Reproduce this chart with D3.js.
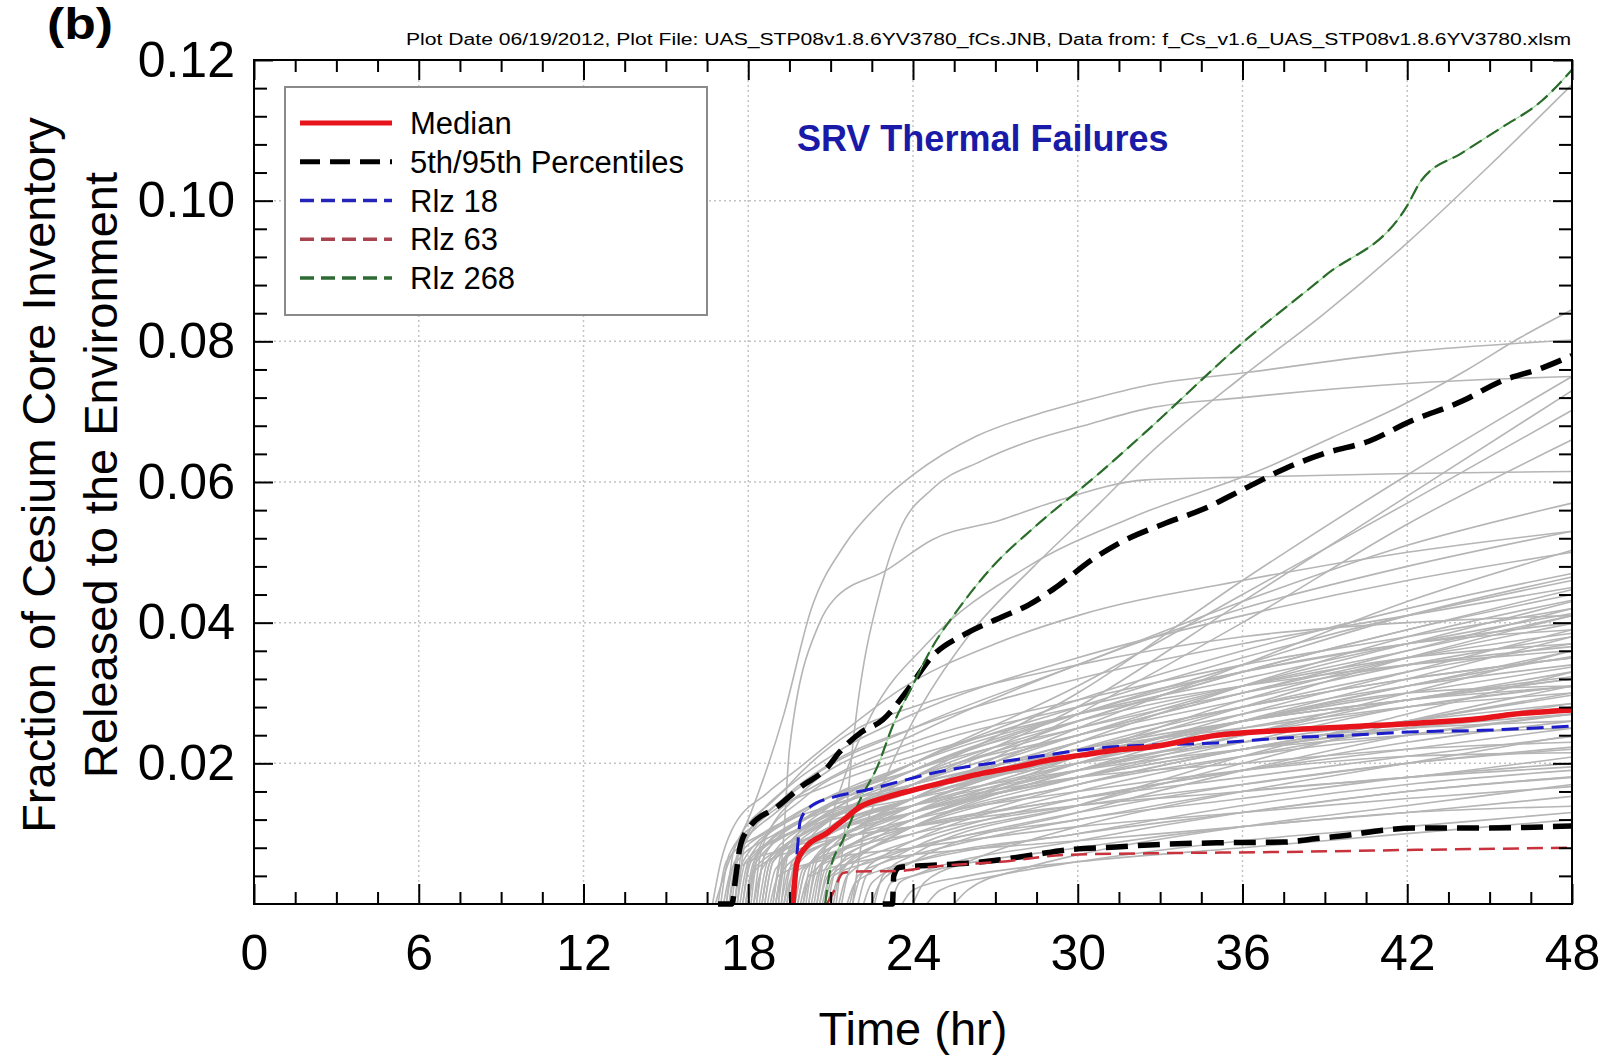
<!DOCTYPE html>
<html>
<head>
<meta charset="utf-8">
<script src="https://cdn.jsdelivr.net/npm/d3@7"></script>
<style>
  body { margin: 0; background: #fff; }
  text { font-family: "Liberation Sans", Arial, sans-serif; }
</style>
</head>
<body>
<div id="chart"></div>
<script>
// axis ticks
const xTicks = [0, 6, 12, 18, 24, 30, 36, 42, 48];
const yTicks = [0.02, 0.04, 0.06, 0.08, 0.10, 0.12];

// named realizations, [hr, fraction]
const median = [[19.63,0],[19.77,0.0058],[20.1,0.0081],[20.87,0.0101],[21.45,0.0119],[22.07,0.0138],[23.05,0.0152],[24,0.0162],[25.46,0.0176],[26.55,0.0186],[27.8,0.0195],[29,0.0205],[30.2,0.0212],[31.4,0.0219],[32.6,0.0223],[35.07,0.024],[37.5,0.0247],[39.9,0.0252],[42.35,0.0257],[44.76,0.0264],[45.7,0.0269],[48,0.0276]];
const pct95 = [[16.9,0],[17.4,0],[17.55,0.004],[17.7,0.0081],[18.06,0.011],[19.05,0.0138],[19.9,0.0166],[20.9,0.0195],[21.3,0.0215],[22.07,0.0243],[22.9,0.0262],[23.8,0.0304],[24.65,0.035],[25.96,0.0385],[27.3,0.0409],[28.2,0.0425],[29.3,0.0453],[30.5,0.0489],[31.6,0.0515],[33.1,0.054],[34.6,0.0562],[36.1,0.0591],[37.6,0.062],[39.1,0.0642],[40.6,0.0658],[42.1,0.0686],[44,0.0715],[45.4,0.0743],[46.9,0.0762],[48,0.078]];
const pct05 = [[22.9,0],[23.25,0],[23.3,0.004],[23.5,0.0052],[24.7,0.0055],[25.96,0.0058],[27.2,0.0063],[28.4,0.007],[29.6,0.0077],[31.4,0.0081],[32.6,0.0084],[35.07,0.0087],[37.5,0.0088],[38.7,0.0093],[39.9,0.0098],[41.1,0.0105],[42.35,0.0108],[44.76,0.0108],[48,0.0111]];
const rlz18 = [[19.6,0],[19.75,0.006],[19.9,0.0119],[20.25,0.0138],[21.1,0.0152],[22.3,0.0162],[23.5,0.0174],[24.7,0.0186],[25.96,0.0195],[27.2,0.0202],[28.4,0.0209],[29.6,0.0216],[30.8,0.0222],[32.6,0.0226],[35.07,0.0229],[37.5,0.0236],[39.9,0.024],[42.35,0.0245],[44.76,0.0247],[48,0.0253]];
const rlz63 = [[20.87,0],[21.1,0.0017],[21.45,0.0044],[21.8,0.0046],[23.5,0.0047],[24.7,0.0053],[27.2,0.006],[29.6,0.007],[32.6,0.0072],[37.5,0.0074],[42.35,0.0077],[48,0.008]];
const rlz268 = [[20.8,0],[20.98,0.0048],[21.45,0.0091],[22.07,0.0148],[22.7,0.0195],[23.3,0.0257],[23.9,0.0304],[24.7,0.0365],[25.7,0.0422],[26.9,0.048],[28.4,0.0535],[30.8,0.0613],[32.5,0.0672],[36,0.0798],[39,0.0893],[42,0.0993],[42.5,0.1028],[44,0.1068],[45.4,0.1103],[46.9,0.1142],[48,0.1186]];

// other realizations (gray)
const grayRuns = [
  [[16.8,0],[17.2,0.005],[18.1,0.013],[19.3,0.027],[20.3,0.042],[21.5,0.051],[22.8,0.057],[24,0.061],[26.3,0.0665],[28.4,0.0695],[30.2,0.0715],[32.6,0.0738],[36,0.0755],[42,0.0785],[48,0.0802]],
  [[21.2,0],[21.5,0.01],[21.8,0.0223],[22.9,0.046],[23.5,0.053],[24.7,0.059],[26.5,0.063],[28.4,0.066],[30.2,0.068],[32.6,0.0705],[36,0.072],[42,0.074],[48,0.075]],
  [[19.1,0],[19.3,0.01],[19.5,0.022],[20.6,0.04],[21.1,0.0432],[23.05,0.0475],[24.7,0.0518],[27.2,0.0546],[29,0.057],[32.5,0.0603],[36,0.0607],[42,0.0612],[48,0.0615]],
  [[20.5,0],[20.8,0.008],[21.5,0.018],[22.5,0.027],[24.5,0.037],[28.2,0.048],[32,0.055],[36.9,0.0621],[39.3,0.0664],[41.7,0.0707],[44.2,0.076],[46.1,0.0805],[48,0.0845]],
  [[21.8,0],[22.1,0.008],[22.8,0.016],[24,0.026],[26,0.038],[28.4,0.048],[30.8,0.057],[32.5,0.0636],[36,0.075],[39,0.084],[42,0.094],[45,0.105],[48,0.1165]],
  [[16.7,0],[17,0.006],[17.4,0.0105],[18.7,0.0158],[19.9,0.0195],[21.1,0.0233],[22.3,0.027],[23.5,0.0304],[27,0.037],[30,0.041],[36,0.046],[42,0.05],[48,0.053]],
  [[18.5,0],[18.8,0.006],[21,0.012],[24,0.018],[30,0.03],[36,0.046],[42,0.061],[48,0.075]],
  [[19,0],[19.3,0.006],[21,0.011],[24,0.017],[30,0.028],[36,0.043],[42,0.058],[48,0.073]],
  [[18,0],[18.3,0.007],[21,0.014],[24,0.02],[30,0.031],[36,0.044],[42,0.057],[48,0.0702]],
  [[19.5,0],[19.8,0.006],[21,0.01],[24,0.015],[30,0.027],[36,0.04],[42,0.054],[48,0.066]],
  [[17.5,0],[17.8,0.008],[20,0.017],[24,0.025],[30,0.034],[36,0.043],[42,0.051],[48,0.057]],
  [[20,0],[20.3,0.006],[22,0.011],[24,0.015],[30,0.025],[36,0.034],[42,0.043],[48,0.0503]],
  [[18.2,0],[18.5,0.008],[20,0.016],[24,0.024],[30,0.034],[36,0.042],[42,0.048],[48,0.053]],
  [[17.2,0],[17.5,0.006],[19,0.011],[24,0.019],[30,0.027],[36,0.034],[42,0.041],[48,0.0465]],
  [[18.2,0],[18.5,0.005],[20,0.01],[24,0.017],[30,0.026],[36,0.033],[42,0.039],[48,0.0447]],
  [[19.2,0],[19.5,0.005],[21,0.009],[24,0.014],[30,0.023],[36,0.031],[42,0.038],[48,0.0432]],
  [[17.8,0],[18.1,0.007],[20,0.013],[24,0.02],[30,0.027],[36,0.032],[42,0.037],[48,0.0413]],
  [[20.2,0],[20.5,0.005],[22,0.009],[24,0.012],[30,0.021],[36,0.029],[42,0.035],[48,0.0399]],
  [[18.6,0],[18.9,0.006],[20.5,0.011],[24,0.017],[30,0.024],[36,0.03],[42,0.035],[48,0.0385]],
  [[17.5,0],[17.8,0.006],[19.5,0.012],[24,0.019],[30,0.025],[36,0.03],[42,0.034],[48,0.0366]],
  [[19.8,0],[20.1,0.005],[21.5,0.009],[24,0.013],[30,0.02],[36,0.026],[42,0.031],[48,0.0352]],
  [[18.9,0],[19.2,0.006],[21,0.011],[24,0.015],[30,0.021],[36,0.026],[42,0.03],[48,0.0337]],
  [[21,0],[21.3,0.004],[22.5,0.008],[24,0.011],[30,0.019],[36,0.024],[42,0.029],[48,0.0323]],
  [[17.9,0],[18.2,0.006],[20,0.012],[24,0.017],[30,0.022],[36,0.026],[42,0.029],[48,0.0309]],
  [[20.6,0],[20.9,0.004],[22.5,0.008],[24,0.01],[30,0.017],[36,0.022],[42,0.026],[48,0.0297]],
  [[19.4,0],[19.7,0.005],[21,0.009],[24,0.013],[30,0.019],[36,0.023],[42,0.026],[48,0.0285]],
  [[18.4,0],[18.7,0.006],[20.5,0.012],[24,0.018],[30,0.024],[36,0.029],[42,0.034],[48,0.038]],
  [[19,0],[19.3,0.006],[21,0.012],[24,0.018],[30,0.026],[36,0.033],[42,0.039],[48,0.044]],
  [[20.4,0],[20.7,0.006],[22,0.011],[24,0.015],[30,0.023],[36,0.028],[42,0.032],[48,0.035]],
  [[17.1,0],[17.4,0.005],[19,0.01],[24,0.016],[30,0.021],[36,0.026],[42,0.029],[48,0.032]],
  [[21.8,0],[22.1,0.004],[23,0.007],[24,0.009],[30,0.016],[36,0.021],[42,0.025],[48,0.028]],
  [[18.1,0],[18.4,0.008],[20,0.015],[24,0.022],[30,0.028],[36,0.033],[42,0.037],[48,0.04]],
  [[19.6,0],[19.9,0.007],[21,0.012],[24,0.017],[30,0.024],[36,0.03],[42,0.036],[48,0.042]],
  [[17.4,0],[17.7,0.008],[19,0.014],[21,0.02],[24,0.025],[30,0.032],[36,0.037],[42,0.041],[48,0.045]],
  [[20.9,0],[21.2,0.005],[22.5,0.009],[24,0.012],[30,0.018],[36,0.023],[42,0.028],[48,0.031]],
  [[22.5,0],[22.8,0.003],[24,0.006],[30,0.013],[36,0.019],[42,0.024],[48,0.027]],
  [[17.6,0],[17.9,0.009],[19.5,0.017],[22,0.025],[24,0.028],[30,0.034],[36,0.038],[42,0.04],[48,0.041]],
  [[19.1,0],[19.4,0.007],[21,0.013],[24,0.019],[30,0.027],[36,0.033],[42,0.037],[48,0.039]],
  [[17,0],[17.3,0.007],[18.5,0.012],[21,0.017],[24,0.021],[30,0.027],[36,0.031],[42,0.034],[48,0.036]],
  [[18.7,0],[19,0.005],[20.5,0.009],[24,0.014],[30,0.02],[36,0.025],[42,0.029],[48,0.033]],
  [[20.1,0],[20.4,0.006],[22,0.011],[24,0.014],[30,0.022],[36,0.028],[42,0.033],[48,0.037]],
  [[19.9,0],[20.2,0.004],[21.5,0.007],[24,0.011],[30,0.017],[36,0.021],[42,0.024],[48,0.027]],
  [[17.7,0],[18,0.006],[19.5,0.01],[24,0.016],[30,0.022],[36,0.027],[42,0.031],[48,0.034]],
  [[21.4,0],[21.7,0.005],[23,0.009],[24,0.011],[30,0.018],[36,0.024],[42,0.03],[48,0.036]],
  [[18.3,0],[18.6,0.007],[20,0.012],[24,0.018],[30,0.025],[36,0.031],[42,0.036],[48,0.041]],
  [[19.5,0],[19.8,0.006],[21,0.01],[24,0.015],[30,0.021],[36,0.026],[42,0.03],[48,0.031]],
  [[20.7,0],[21,0.004],[22.5,0.007],[24,0.009],[30,0.015],[36,0.019],[42,0.023],[48,0.026]],
  [[17.9,0],[18.2,0.005],[20,0.009],[24,0.013],[30,0.018],[36,0.022],[42,0.025],[48,0.0285]],
  [[22,0],[22.3,0.004],[23.5,0.007],[24,0.008],[30,0.014],[36,0.02],[42,0.026],[48,0.031]],
  [[19.2,0],[19.5,0.008],[21,0.014],[24,0.02],[30,0.028],[36,0.035],[42,0.041],[48,0.046]],
  [[18,0],[18.3,0.006],[20,0.011],[24,0.016],[30,0.02],[36,0.023],[42,0.025],[48,0.026]],
  [[20.3,0],[20.6,0.005],[22,0.009],[24,0.012],[30,0.019],[36,0.026],[42,0.032],[48,0.038]],
  [[16.9,0],[17.2,0.006],[18.5,0.01],[21,0.014],[24,0.017],[30,0.022],[36,0.025],[42,0.028],[48,0.03]],
  [[18,0],[18.3,0.005],[20,0.008],[24,0.011],[30,0.015],[36,0.018],[42,0.021],[48,0.0238]],
  [[19.3,0],[19.6,0.004],[21,0.007],[24,0.01],[30,0.014],[36,0.017],[42,0.02],[48,0.0223]],
  [[20.8,0],[21.1,0.004],[22.5,0.006],[24,0.008],[30,0.012],[36,0.016],[42,0.018],[48,0.0209]],
  [[17.3,0],[17.6,0.005],[19.5,0.008],[24,0.011],[30,0.014],[36,0.016],[42,0.018],[48,0.0195]],
  [[21.6,0],[21.9,0.003],[23,0.005],[24,0.006],[30,0.01],[36,0.013],[42,0.016],[48,0.0181]],
  [[18.8,0],[19.1,0.004],[20.5,0.006],[24,0.008],[30,0.011],[36,0.013],[42,0.015],[48,0.0167]],
  [[22.9,0],[23.2,0.003],[24,0.004],[30,0.008],[36,0.011],[42,0.013],[48,0.0153]],
  [[20,0],[20.3,0.004],[22,0.006],[24,0.007],[30,0.009],[36,0.011],[42,0.013],[48,0.0139]],
  [[24.5,0],[25,0.002],[27,0.004],[30,0.006],[36,0.009],[42,0.011],[48,0.013]],
  [[23.6,0],[24,0.002],[26,0.004],[30,0.006],[36,0.008],[42,0.01],[48,0.012]],
  [[19.7,0],[20,0.005],[21.5,0.008],[24,0.011],[30,0.015],[36,0.019],[42,0.022],[48,0.025]],
  [[21.3,0],[21.6,0.004],[23,0.007],[24,0.008],[30,0.013],[36,0.017],[42,0.02],[48,0.022]],
  [[25.5,0],[26,0.002],[28,0.005],[30,0.007],[36,0.011],[42,0.014],[48,0.017]],
  [[22.2,0],[22.5,0.003],[24,0.006],[30,0.01],[36,0.014],[42,0.017],[48,0.019]],
  [[17.3,0],[17.6,0.007],[19,0.013],[21,0.018],[24,0.023],[30,0.029],[36,0.034],[42,0.038],[48,0.042]],
  [[18.5,0],[18.8,0.006],[20.5,0.011],[24,0.016],[30,0.023],[36,0.028],[42,0.032],[48,0.035]],
  [[19.4,0],[19.7,0.006],[21,0.011],[24,0.016],[30,0.024],[36,0.031],[42,0.037],[48,0.043]],
  [[20.5,0],[20.8,0.005],[22,0.009],[24,0.012],[30,0.02],[36,0.027],[42,0.033],[48,0.039]],
  [[17.8,0],[18.1,0.006],[20,0.011],[24,0.015],[30,0.019],[36,0.022],[42,0.024],[48,0.025]],
  [[19,0],[19.3,0.005],[21,0.009],[24,0.013],[30,0.018],[36,0.022],[42,0.025],[48,0.027]],
  [[21.1,0],[21.4,0.005],[23,0.009],[24,0.011],[30,0.017],[36,0.022],[42,0.026],[48,0.03]],
  [[18.9,0],[19.2,0.007],[21,0.013],[24,0.019],[30,0.026],[36,0.031],[42,0.035],[48,0.037]],
  [[20.2,0],[20.5,0.006],[22,0.01],[24,0.014],[30,0.021],[36,0.026],[42,0.029],[48,0.032]],
  [[17.6,0],[17.9,0.006],[19.5,0.01],[24,0.014],[30,0.018],[36,0.02],[42,0.022],[48,0.023]],
  [[22.6,0],[22.9,0.004],[24,0.007],[30,0.014],[36,0.021],[42,0.027],[48,0.033]],
  [[18.3,0],[18.6,0.007],[20.5,0.013],[24,0.02],[30,0.029],[36,0.036],[42,0.042],[48,0.047]],
  [[19.8,0],[20.1,0.005],[21.5,0.009],[24,0.012],[30,0.016],[36,0.019],[42,0.021],[48,0.0215]],
  [[21.7,0],[22,0.004],[23,0.006],[24,0.007],[30,0.012],[36,0.015],[42,0.018],[48,0.02]],
  [[17.2,0],[17.5,0.008],[19,0.015],[21,0.021],[24,0.027],[30,0.035],[36,0.041],[42,0.046],[48,0.05]],
  [[20.6,0],[20.9,0.005],[22.5,0.01],[24,0.013],[30,0.021],[36,0.028],[42,0.035],[48,0.041]],
  [[19.3,0],[19.6,0.006],[21,0.01],[24,0.014],[30,0.019],[36,0.024],[42,0.028],[48,0.031]],
  [[23.2,0],[23.5,0.003],[24,0.004],[30,0.009],[36,0.013],[42,0.016],[48,0.018]],
  [[18.6,0],[18.9,0.006],[20.5,0.01],[24,0.015],[30,0.021],[36,0.026],[42,0.031],[48,0.036]],
  [[24,0],[24.4,0.003],[26,0.006],[30,0.011],[36,0.016],[42,0.02],[48,0.024]]
];

// legend entries
const legendLabels = ["Median", "5th/95th Percentiles", "Rlz 18", "Rlz 63", "Rlz 268"];

const W = 1613, H = 1055;
const svg = d3.select("#chart").append("svg")
  .attr("width", W)
  .attr("height", H)
  .style("display", "block");

const x = d3.scaleLinear().domain([0, 48]).range([254, 1572]);
const y = d3.scaleLinear().domain([0, 0.12]).range([904, 60]);

const line = d3.line()
  .x(d => x(d[0]))
  .y(d => y(d[1]))
  .curve(d3.curveMonotoneX);

// grid
svg.append("g")
  .selectAll("line.gx")
  .data(xTicks.slice(1, -1))
  .enter().append("line")
  .attr("x1", d => x(d)).attr("x2", d => x(d))
  .attr("y1", y(0.12)).attr("y2", y(0))
  .attr("stroke", "#c4c4c4").attr("stroke-width", 1.5)
  .attr("stroke-dasharray", "2,3");
svg.append("g")
  .selectAll("line.gy")
  .data(yTicks.slice(0, -1))
  .enter().append("line")
  .attr("x1", x(0)).attr("x2", x(48))
  .attr("y1", d => y(d)).attr("y2", d => y(d))
  .attr("stroke", "#c4c4c4").attr("stroke-width", 1.5)
  .attr("stroke-dasharray", "2,3");

// gray realizations
svg.append("g")
  .selectAll("path")
  .data(grayRuns)
  .enter().append("path")
  .attr("d", line)
  .attr("fill", "none")
  .attr("stroke", "#b5b5b5")
  .attr("stroke-width", 1.6);

// highlighted lines
const styles = {
  pct: { color: "#000", width: 5.5, dash: "22,10" },
  r18: { color: "#1c1cc8", width: 3, dash: "17,8" },
  r63: { color: "#c8323c", width: 2.5, dash: "16,8" },
  r268: { color: "#2b6b2b", width: 2.2, dash: "14,6" },
  med: { color: "#e8141c", width: 5.5, dash: null }
};

function drawLine(data, st) {
  svg.append("path")
    .datum(data)
    .attr("d", line)
    .attr("fill", "none")
    .attr("stroke", st.color)
    .attr("stroke-width", st.width)
    .attr("stroke-dasharray", st.dash);
}

drawLine(pct05, styles.pct);
drawLine(pct95, styles.pct);
drawLine(rlz63, styles.r63);
// green line has a light halo under the dashes
svg.append("path").datum(rlz268).attr("d", line)
  .attr("fill", "none").attr("stroke", "#9ad89a").attr("stroke-width", 1.2);
drawLine(rlz268, styles.r268);
drawLine(rlz18, styles.r18);
drawLine(median, styles.med);

// frame
svg.append("rect")
  .attr("x", x(0)).attr("y", y(0.12))
  .attr("width", x(48) - x(0)).attr("height", y(0) - y(0.12))
  .attr("fill", "none").attr("stroke", "#000").attr("stroke-width", 2);

// ticks (inward on all sides)
const xMinor = d3.range(0, 48.01, 1.5).filter(d => d % 6 !== 0);
const yMinor = d3.range(0, 0.1201, 0.004).filter(d => Math.abs(d / 0.02 - Math.round(d / 0.02)) > 1e-6);

function tickStyle(g) {
  g.select(".domain").remove();
  g.selectAll("line").attr("stroke", "#000").attr("stroke-width", 2);
  g.selectAll("text")
    .attr("fill", "#000")
    .style("font-family", "'Liberation Sans', Arial, sans-serif")
    .style("font-size", "50px");
}

svg.append("g").attr("transform", `translate(0,${y(0)})`)
  .call(d3.axisBottom(x).tickValues(xTicks).tickSize(-20).tickPadding(30).tickFormat(d3.format("d")))
  .call(tickStyle);
svg.append("g").attr("transform", `translate(0,${y(0)})`)
  .call(d3.axisBottom(x).tickValues(xMinor).tickSize(-12).tickFormat(""))
  .call(tickStyle);
svg.append("g").attr("transform", `translate(0,${y(0.12)})`)
  .call(d3.axisTop(x).tickValues(xTicks).tickSize(-20).tickFormat(""))
  .call(tickStyle);
svg.append("g").attr("transform", `translate(0,${y(0.12)})`)
  .call(d3.axisTop(x).tickValues(xMinor).tickSize(-12).tickFormat(""))
  .call(tickStyle);

svg.append("g").attr("transform", `translate(${x(0)},0)`)
  .call(d3.axisLeft(y).tickValues(yTicks).tickSize(-19).tickPadding(19).tickFormat(d3.format(".2f")))
  .call(tickStyle);
svg.append("g").attr("transform", `translate(${x(0)},0)`)
  .call(d3.axisLeft(y).tickValues(yMinor).tickSize(-13).tickFormat(""))
  .call(tickStyle);
svg.append("g").attr("transform", `translate(${x(48)},0)`)
  .call(d3.axisRight(y).tickValues(yTicks).tickSize(-19).tickFormat(""))
  .call(tickStyle);
svg.append("g").attr("transform", `translate(${x(48)},0)`)
  .call(d3.axisRight(y).tickValues(yMinor).tickSize(-13).tickFormat(""))
  .call(tickStyle);

// axis titles
svg.append("text")
  .attr("x", (x(0) + x(48)) / 2)
  .attr("y", 1045)
  .attr("text-anchor", "middle")
  .style("font-size", "47px")
  .text("Time (hr)");

const yTitle = svg.append("text")
  .attr("transform", "translate(0,475) rotate(-90)")
  .attr("text-anchor", "middle")
  .style("font-size", "47px");
yTitle.append("tspan").attr("x", 0).attr("y", 55).text("Fraction of Cesium Core Inventory");
yTitle.append("tspan").attr("x", 0).attr("y", 117).text("Released to the Environment");

// panel label and header
svg.append("text")
  .attr("x", 47).attr("y", 39)
  .attr("textLength", 66)
  .attr("lengthAdjust", "spacingAndGlyphs")
  .style("font-size", "44px").style("font-weight", "bold")
  .text("(b)");

svg.append("text")
  .attr("x", 406).attr("y", 45)
  .attr("textLength", 1165)
  .attr("lengthAdjust", "spacingAndGlyphs")
  .style("font-size", "16px")
  .text("Plot Date 06/19/2012, Plot File: UAS_STP08v1.8.6YV3780_fCs.JNB, Data from: f_Cs_v1.6_UAS_STP08v1.8.6YV3780.xlsm");

svg.append("text")
  .attr("x", 797).attr("y", 151)
  .attr("fill", "#1a1aa8")
  .style("font-size", "36px").style("font-weight", "bold")
  .text("SRV Thermal Failures");

// legend
const legend = svg.append("g");
legend.append("rect")
  .attr("x", 285).attr("y", 87)
  .attr("width", 422).attr("height", 228)
  .attr("fill", "#fff").attr("stroke", "#8a8a8a").attr("stroke-width", 2);

const legendStyles = [
  { color: "#e8141c", width: 5, dash: null },
  { color: "#000", width: 5, dash: "20,10" },
  { color: "#2424b8", width: 3.5, dash: "14,7" },
  { color: "#a8424e", width: 3.5, dash: "14,7" },
  { color: "#2e6b34", width: 3.5, dash: "14,7" }
];
const rowY = d3.scalePoint().domain(legendLabels).range([123, 278]);

legend.selectAll("line")
  .data(legendLabels)
  .enter().append("line")
  .attr("x1", 300).attr("x2", 392)
  .attr("y1", d => rowY(d)).attr("y2", d => rowY(d))
  .attr("stroke", (d, i) => legendStyles[i].color)
  .attr("stroke-width", (d, i) => legendStyles[i].width)
  .attr("stroke-dasharray", (d, i) => legendStyles[i].dash);

legend.selectAll("text")
  .data(legendLabels)
  .enter().append("text")
  .attr("x", 410)
  .attr("y", d => rowY(d) + 11)
  .style("font-size", "31px")
  .text(d => d);
</script>
</body>
</html>
